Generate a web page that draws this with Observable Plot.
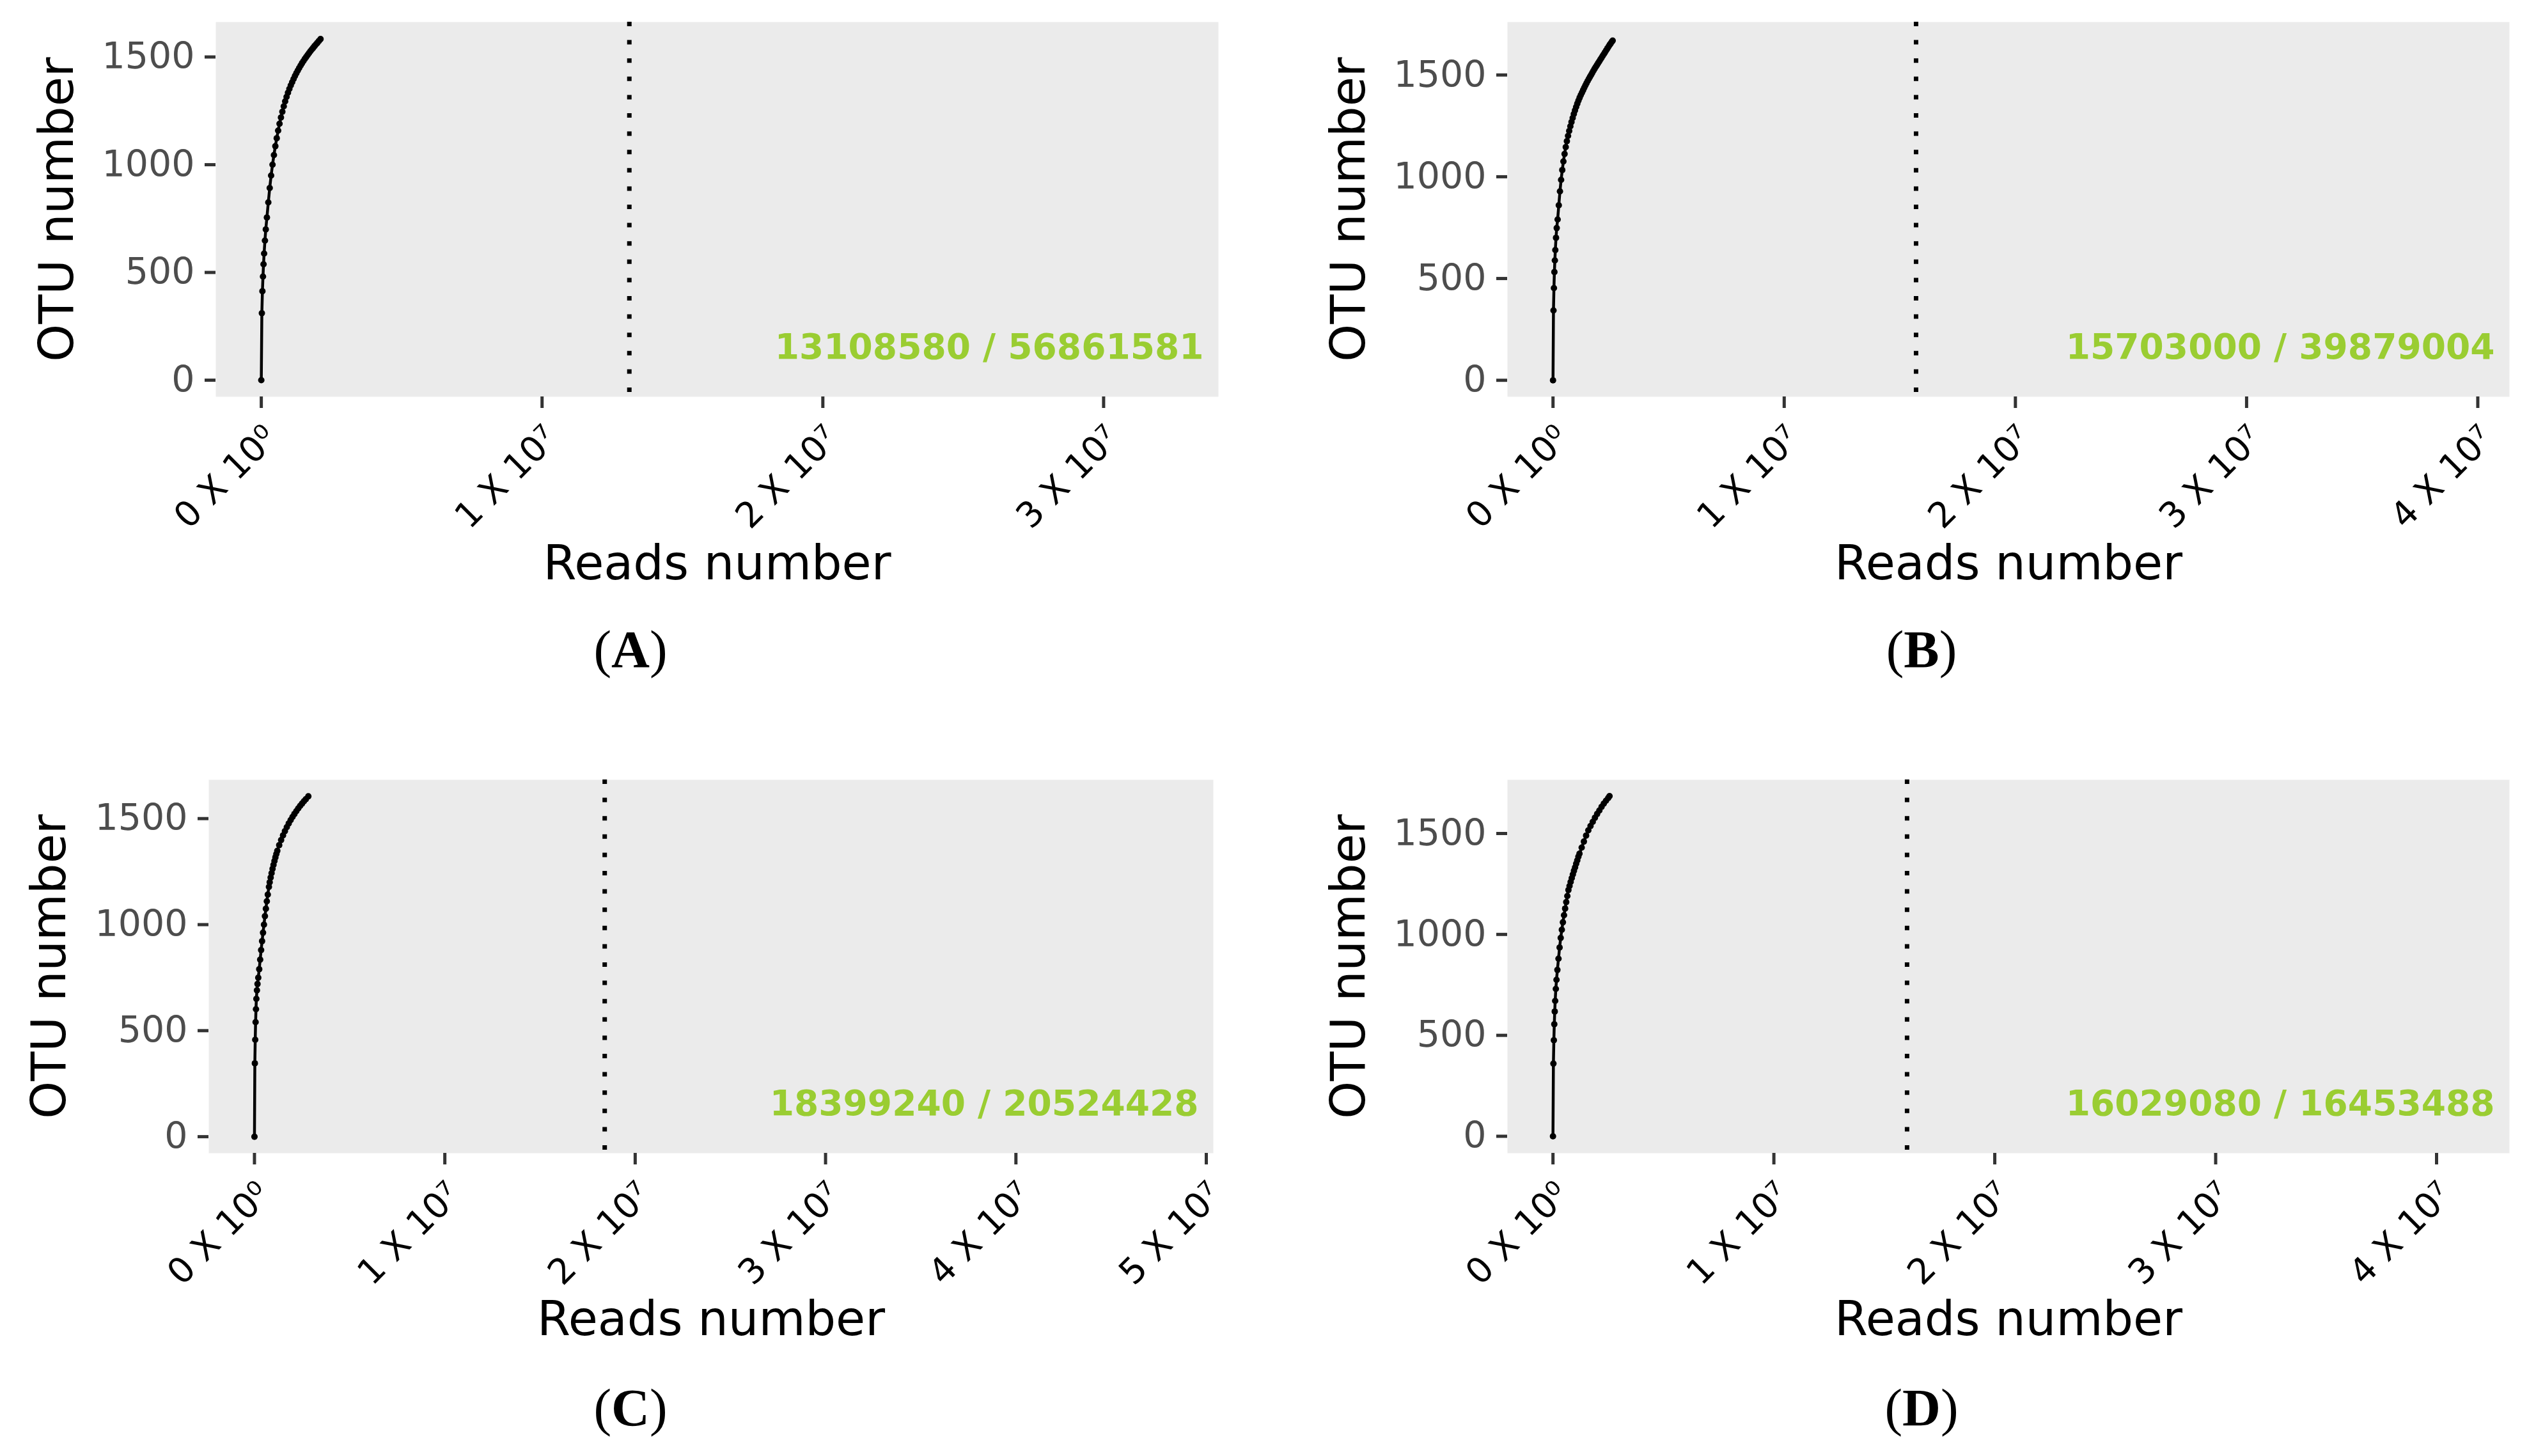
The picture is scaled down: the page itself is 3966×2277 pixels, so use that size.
<!DOCTYPE html>
<html><head><meta charset="utf-8">
<script src="https://cdn.jsdelivr.net/npm/d3@7"></script>
<script src="https://cdn.jsdelivr.net/npm/@observablehq/plot@0.6"></script>
<style>
html,body{margin:0;padding:0;background:#fff;}
#page{position:relative;width:3966px;height:2277px;overflow:hidden;background:#fff;}
.panel{position:absolute;}
.cap{position:absolute;font-family:"Liberation Serif","Times New Roman",serif;font-weight:normal;font-size:83px;line-height:83px;text-align:center;width:1000px;color:#000;}
.cap b{font-weight:bold;}
</style></head><body><div id="page"></div>
<script>
// ---- data (reads in millions, OTU counts) ----
const readsA = [0,0.02,0.04,0.06,0.08,0.10,0.13,0.16,0.20,0.25,0.30,0.35,0.40,0.45,0.50,0.55,0.60,0.65,0.70,0.75,0.80,0.85,0.90,0.95,1.00,1.05,1.10,1.15,1.20,1.25,1.30,1.35,1.40,1.45,1.50,1.55,1.60,1.65,1.70,1.75,1.80,1.85,1.90,1.95,2.00,2.05,2.11];
const otuA   = [0,311,413,481,538,588,648,700,755,825,892,950,1000,1045,1086,1123,1158,1190,1219,1246,1271,1294,1315,1334,1352,1368,1383,1398,1412,1425,1437,1449,1460,1471,1481,1491,1500,1509,1518,1527,1535,1543,1551,1559,1566,1574,1583];

const readsB = [0,0.02,0.04,0.06,0.08,0.10,0.13,0.16,0.20,0.25,0.30,0.35,0.40,0.45,0.50,0.55,0.60,0.65,0.70,0.75,0.80,0.85,0.90,0.95,1.00,1.05,1.10,1.15,1.20,1.25,1.30,1.35,1.40,1.45,1.50,1.55,1.60,1.65,1.70,1.75,1.80,1.85,1.90,1.95,2.00,2.05,2.10,2.15,2.20,2.25,2.30,2.35,2.40,2.45,2.50,2.55,2.58];
const otuB   = [0,343,453,532,589,640,700,748,790,860,928,985,1033,1075,1112,1146,1175,1201,1225,1248,1269,1289,1308,1326,1343,1359,1374,1388,1401,1413,1425,1437,1449,1460,1471,1481,1491,1501,1511,1521,1531,1540,1549,1558,1567,1576,1585,1594,1603,1612,1621,1630,1639,1648,1656,1664,1669];

const readsC = [0,0.02,0.04,0.06,0.08,0.10,0.13,0.16,0.20,0.25,0.30,0.35,0.40,0.45,0.50,0.55,0.60,0.65,0.70,0.76,0.80,0.85,0.90,0.95,1.00,1.05,1.10,1.15,1.20,1.30,1.40,1.50,1.60,1.70,1.80,1.90,2.00,2.10,2.20,2.30,2.40,2.50,2.60,2.70,2.83];
const otuC   = [0,346,457,540,601,650,690,720,750,790,835,880,922,962,1000,1040,1075,1110,1142,1178,1200,1222,1243,1263,1282,1300,1317,1333,1348,1375,1399,1421,1441,1460,1477,1493,1508,1522,1535,1548,1560,1571,1582,1592,1605];

const readsD = [0,0.02,0.04,0.06,0.08,0.10,0.13,0.16,0.20,0.25,0.30,0.35,0.40,0.45,0.50,0.55,0.60,0.65,0.70,0.75,0.80,0.85,0.90,0.95,1.00,1.05,1.10,1.15,1.20,1.30,1.40,1.50,1.60,1.70,1.80,1.90,2.00,2.10,2.20,2.30,2.40,2.50,2.56];
const otuD   = [0,360,476,555,618,671,730,775,824,880,935,983,1023,1060,1095,1128,1160,1190,1220,1240,1260,1279,1297,1315,1332,1350,1367,1385,1400,1430,1460,1490,1516,1537,1558,1578,1597,1614,1632,1648,1662,1676,1685];

const cutoffs = [13108580, 15703000, 18399240, 16029080];
const totals  = [56861581, 39879004, 20524428, 16453488];
const panelNames = ["A", "B", "C", "D"];

const yTicks = [0, 500, 1000, 1500];
const xTicksA = [0, 1e7, 2e7, 3e7];
const xTicksB = [0, 1e7, 2e7, 3e7, 4e7];
const xTicksC = [0, 1e7, 2e7, 3e7, 4e7, 5e7];
const xTicksD = [0, 1e7, 2e7, 3e7, 4e7];
const xTickLabels = ["0 X 10\u2070", "1 X 10\u2077", "2 X 10\u2077", "3 X 10\u2077", "4 X 10\u2077", "5 X 10\u2077"];

const xTitle = "Reads number";
const yTitle = "OTU number";

// ---- layout (pixels) ----
const layouts = [
  {left: 0,    top: 0,    ml: 337, mr: 78, mt: 34, mb: 380, xDomain: [-1.62e6, 34.09e6], yDomain: [-77, 1662], ylo: 277, xlo: 285, cap: [486, 973.5]},
  {left: 1983, top: 0,    ml: 374, mr: 42, mt: 34, mb: 380, xDomain: [-1.97e6, 41.37e6], yDomain: [-81, 1760], ylo: 277, xlo: 285, cap: [2505, 973.5]},
  {left: 0,    top: 1185, ml: 326, mr: 86, mt: 34, mb: 382, xDomain: [-2.40e6, 50.37e6], yDomain: [-78, 1683], ylo: 278, xlo: 284, cap: [486, 2159.5]},
  {left: 1983, top: 1185, ml: 374, mr: 42, mt: 34, mb: 382, xDomain: [-2.06e6, 43.30e6], yDomain: [-84, 1766], ylo: 277, xlo: 284, cap: [2505, 2159.5]}
];

const series = [[readsA, otuA, xTicksA], [readsB, otuB, xTicksB], [readsC, otuC, xTicksC], [readsD, otuD, xTicksD]];

const page = document.getElementById("page");

series.forEach(([reads, otu, xTicks], i) => {
  const L = layouts[i];
  const data = reads.map((r, j) => ({reads: r * 1e6, otu: otu[j]}));
  const labelOf = new Map(xTicks.map((t, j) => [t, xTickLabels[j]]));
  const chart = Plot.plot({
    width: 1983, height: 1000,
    marginLeft: L.ml, marginRight: L.mr, marginTop: L.mt, marginBottom: L.mb,
    style: {fontFamily: "'DejaVu Sans', sans-serif", fontSize: "55px", background: "transparent", maxWidth: "none", overflow: "visible"},
    x: {domain: L.xDomain},
    y: {domain: L.yDomain},
    marks: [
      Plot.frame({fill: "#EBEBEB", stroke: "none"}),
      Plot.ruleX([cutoffs[i]], {stroke: "#000", strokeWidth: 7, strokeDasharray: "7 21.6"}),
      Plot.line(data, {x: "reads", y: "otu", stroke: "#000", strokeWidth: 4.5}),
      Plot.dot(data, {x: "reads", y: "otu", r: 5, fill: "#000", stroke: "none"}),
      Plot.text([`${cutoffs[i]} / ${totals[i]}`], {frameAnchor: "bottom-right", dx: -23, dy: -60, textAnchor: "end", lineAnchor: "bottom", fill: "#9ACD32", fontWeight: "bold", fontSize: 55}),
      Plot.axisY(yTicks, {tickSize: 17, tickPadding: 16, tickFormat: d => String(d), stroke: "#333333", strokeWidth: 5, fill: "#4D4D4D", fontSize: 57, label: null}),
      Plot.axisY({ticks: [], tickSize: 0, label: yTitle, labelAnchor: "center", labelArrow: "none", labelOffset: L.ylo, fontSize: 75, fill: "#000"}),
      Plot.axisX(xTicks, {tickSize: 18, tickPadding: 22, tickRotate: -45, textAnchor: "end", lineAnchor: "top", tickFormat: d => labelOf.get(d), stroke: "#333333", strokeWidth: 5, fill: "#000", fontSize: 55, label: null}),
      Plot.axisX({ticks: [], tickSize: 0, label: xTitle, labelAnchor: "center", labelArrow: "none", labelOffset: L.xlo, fontSize: 75, fill: "#000"})
    ]
  });
  const wrap = document.createElement("div");
  wrap.className = "panel";
  wrap.style.left = L.left + "px";
  wrap.style.top = L.top + "px";
  wrap.appendChild(chart);
  page.appendChild(wrap);

  const cap = document.createElement("div");
  cap.className = "cap";
  cap.style.left = L.cap[0] + "px";
  cap.style.top = L.cap[1] + "px";
  cap.append("(");
  const b = document.createElement("b");
  b.textContent = panelNames[i];
  cap.append(b);
  cap.append(")");
  page.appendChild(cap);
});
</script>
</body></html>
